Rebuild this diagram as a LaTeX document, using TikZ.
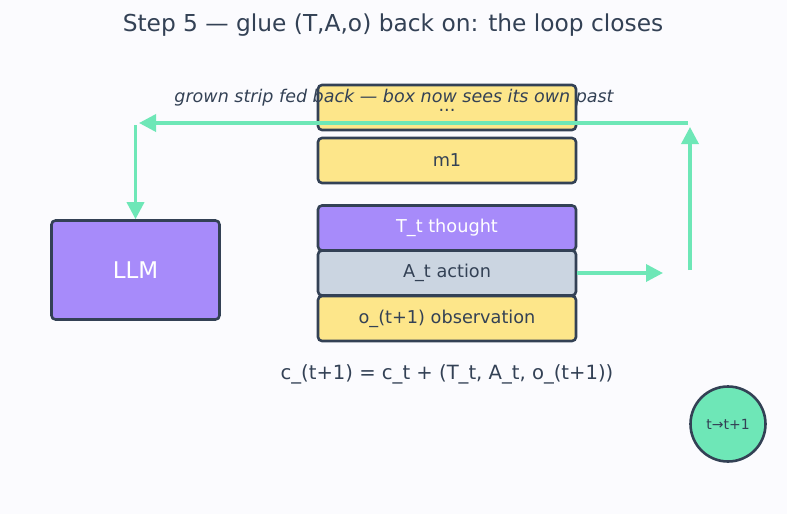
\documentclass[tikz,border=0pt]{standalone}
\usepackage{fontspec}
\setmainfont{DejaVu Sans}
\usepackage{xcolor}
\usetikzlibrary{arrows.meta, positioning, calc}

\definecolor{bgc}{HTML}{FBFBFE}
\definecolor{ink}{HTML}{334155}
\definecolor{yel}{HTML}{FDE68A}
\definecolor{pur}{HTML}{A78BFA}
\definecolor{slt}{HTML}{CBD5E1}
\definecolor{mint}{HTML}{6EE7B7}

\begin{document}
\begin{tikzpicture}[x=1pt, y=-1pt,
    strip/.style={rectangle, draw=ink, line width=2.6pt, rounded corners=4pt, minimum width=258pt, minimum height=45pt, align=center, font=\fontsize{17.7}{20}\selectfont, text=ink},
    memstrip/.style={strip, fill=yel},
    thoughtstrip/.style={strip, fill=pur, text=white},
    actstrip/.style={strip, fill=slt},
    llmblock/.style={rectangle, draw=ink, line width=2.6pt, rounded corners=4pt, fill=pur, minimum width=168pt, minimum height=99pt, font=\fontsize{23}{26}\selectfont, text=white},
    clock/.style={circle, draw=ink, line width=2.6pt, fill=mint, minimum size=75pt, inner sep=0pt, font=\fontsize{14}{16}\selectfont, text=ink},
    arrow/.style={-{Triangle[length=17pt, width=17pt]}, line width=3.5pt, mint}
]
\fill[bgc] (0,0) rectangle (787,514);
\useasboundingbox (0,0) rectangle (787,514);

\node[text=ink, font=\fontsize{23.3}{26}\selectfont] (title) at (393,25) {Step 5 — glue (T,A,o) back on: the loop closes};

% context strip
\node[memstrip] (dots) at (447,107.5) {\raisebox{-8pt}{...}};
\node[memstrip] (m1) at (447,160.5) {m1};
\node[thoughtstrip] (tt) at (447,228) {T\_t thought};
\node[actstrip] (at) at (447,273) {A\_t action};
\node[memstrip] (ot) at (447,318.5) {o\_(t+1) observation};

\node[llmblock] (llm) at (135.5,270) {LLM};

\node[text=ink, font=\fontsize{19.6}{22}\selectfont] (eq) at (447,374) {c\_(t+1) = c\_t + (T\_t, A\_t, o\_(t+1))};

\node[clock] (tick) at (728,424) {t→t+1};

% loop back
\coordinate (aend) at (663,273);
\coordinate (ubot) at (690,270);
\coordinate (utop) at (690,127);
\coordinate (hr) at (688,123);
\coordinate (hl) at (139,123);
\coordinate (dtop) at (135.5,125);

\draw[arrow] (at.east) -- (aend);
\draw[arrow] (ubot) -- (utop);
\draw[arrow] (hr) -- (hl);
\draw[arrow] (dtop) -- (llm.north);

\node[text=ink, font=\itshape\fontsize{17.5}{20}\selectfont] (fb) at (394,98) {grown strip fed back — box now sees its own past};

\end{tikzpicture}
\end{document}
